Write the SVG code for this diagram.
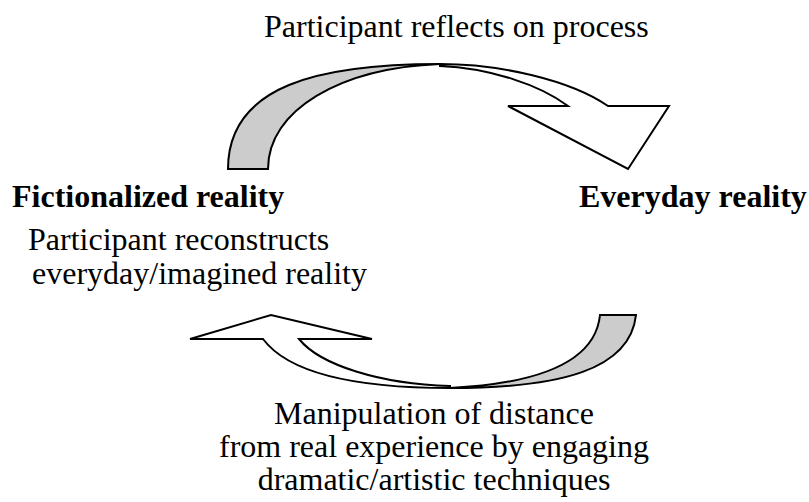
<svg xmlns="http://www.w3.org/2000/svg" width="809" height="502" viewBox="0 0 809 502">
  <style>
    text { font-family: "Liberation Serif", "Times New Roman", serif; font-size: 32px; fill: #000; }
    .bold { font-weight: bold; }
    .mid { text-anchor: middle; }
    .back { fill: #cccccc; stroke: #000; stroke-width: 2; stroke-linejoin: miter; }
    .front { fill: #ffffff; stroke: #000; stroke-width: 2; stroke-linejoin: miter; }
  </style>

  <!-- curved ribbon arrows: grey underside plus white front with arrowhead -->
  <g id="connectors">
    <g id="arrow-top">
      <path class="back" d="M228,169 C228,85 320,64 440,64 C340,68 268,110 268,169 Z"/>
      <path class="front" d="M440,64 C500,64 570,80 608,106 L669,106 L628,169 L508,106 L568,106 C540,85 490,68 440,66 Z"/>
    </g>
    <g id="arrow-bottom">
      <path class="back" d="M636,315 C630,370 560,388 450,388 C530,384 595,365 600,315 Z"/>
      <path class="front" d="M450,388 C360,388 290,375 263,339 L190,339 L271,315 L372,339 L299,339 C320,365 380,384 450,386 Z"/>
    </g>
  </g>

  <g id="label-reflect">
    <text x="264" y="37">Participant reflects on process</text>
  </g>

  <g id="node-fictionalized">
    <text class="bold" x="12" y="207">Fictionalized reality</text>
    <text x="28" y="250">Participant reconstructs</text>
    <text x="32" y="284">everyday/imagined reality</text>
  </g>

  <g id="node-everyday">
    <text class="bold" x="579" y="207">Everyday reality</text>
  </g>

  <g id="label-manipulation">
    <text class="mid" x="434" y="424">Manipulation of distance</text>
    <text class="mid" x="434" y="457">from real experience by engaging</text>
    <text class="mid" x="434" y="490">dramatic/artistic techniques</text>
  </g>
</svg>
